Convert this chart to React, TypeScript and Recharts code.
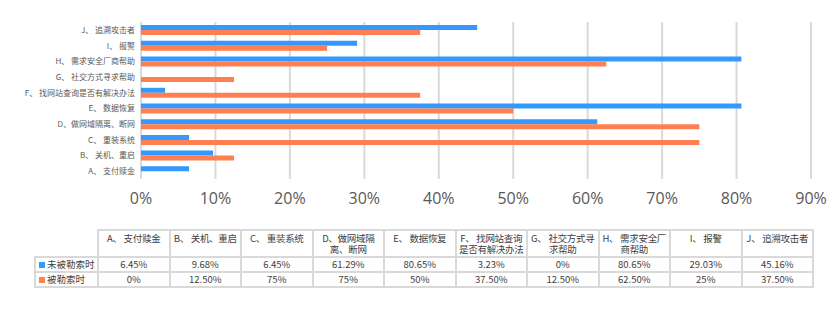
import { BarChart, Bar, XAxis, YAxis, CartesianGrid } from "recharts";

const categories = [
  "A、 支付赎金",
  "B、 关机、重启",
  "C、 重装系统",
  "D、做网域隔离、断网",
  "E、 数据恢复",
  "F、 找网站查询是否有解决办法",
  "G、 社交方式寻求帮助",
  "H、 需求安全厂商帮助",
  "I、  报警",
  "J、 追溯攻击者",
];
const notExtorted = [6.45, 9.68, 6.45, 61.29, 80.65, 3.23, 0, 80.65, 29.03, 45.16];
const extorted = [0, 12.5, 75, 75, 50, 37.5, 12.5, 62.5, 25, 37.5];
const notExtortedText = ["6.45%", "9.68%", "6.45%", "61.29%", "80.65%", "3.23%", "0%", "80.65%", "29.03%", "45.16%"];
const extortedText = ["0%", "12.50%", "75%", "75%", "50%", "37.50%", "12.50%", "62.50%", "25%", "37.50%"];
const xTicks = [0, 10, 20, 30, 40, 50, 60, 70, 80, 90];

const seriesNames = ["未被勒索时", "被勒索时"];
const BLUE = "#3399FF";
const ORANGE = "#FF7F50";
const BORDER = "2px solid #d9d9d9";

const data = categories.map((name, i) => ({
  name,
  a: notExtorted[i],
  b: extorted[i],
}));

const cell: React.CSSProperties = {
  border: BORDER,
  padding: 0,
  textAlign: "center",
  color: "#404040",
  fontSize: 9.5,
  lineHeight: "11px",
  overflow: "visible",
};

// plain svg text so long labels stay on one line
const CategoryTick = (props: any) => {
  const { x, y, payload } = props;
  return (
    <text x={x} y={y} dy={3} textAnchor="end" fill="#595959" fontSize={8}>
      {payload.value}
    </text>
  );
};

const App = () => {
  return (
    <div
      style={{
        position: "fixed",
        left: 0,
        top: 0,
        width: 837,
        height: 311,
        background: "#fff",
        fontFamily: "'Noto Sans CJK SC', 'Liberation Sans', sans-serif",
      }}
    >
      <BarChart
        width={837}
        height={215}
        data={data}
        layout="vertical"
        margin={{ top: 22, right: 26, left: 0, bottom: 6 }}
        barSize={5}
        barGap={0}
      >
        <CartesianGrid horizontal={false} stroke="#d9d9d9" strokeWidth={2} />
        <XAxis
          type="number"
          domain={[0, 90]}
          ticks={xTicks}
          height={30}
          axisLine={false}
          tickLine={false}
          tickSize={0}
          tickMargin={14}
          tickFormatter={(v) => `${v}%`}
          tick={{ fill: "#595959", fontSize: 16, fontFamily: "'Open Sans', sans-serif" }}
        />
        <YAxis
          type="category"
          dataKey="name"
          reversed
          width={141}
          axisLine={false}
          tickLine={false}
          tickSize={0}
          tickMargin={6}
          interval={0}
          tick={<CategoryTick />}
        />
        <Bar dataKey="a" name={seriesNames[0]} fill={BLUE} isAnimationActive={false} />
        <Bar dataKey="b" name={seriesNames[1]} fill={ORANGE} isAnimationActive={false} />
      </BarChart>
      <table
        style={{
          position: "absolute",
          left: 34,
          top: 229,
          borderCollapse: "collapse",
          tableLayout: "fixed",
          width: 778,
        }}
      >
        <colgroup>
          <col style={{ width: 63 }} />
          {categories.map((c) => (
            <col key={c} style={{ width: 71.5 }} />
          ))}
        </colgroup>
        <tbody>
          <tr style={{ height: 27 }}>
            <td style={{ ...cell, borderTop: "none", borderLeft: "none" }} />
            {categories.map((c) => (
              <td
                key={c}
                style={{ ...cell, verticalAlign: "top", paddingTop: 2, letterSpacing: -0.3 }}
              >
                {c}
              </td>
            ))}
          </tr>
          {[notExtortedText, extortedText].map((row, r) => (
            <tr key={r} style={{ height: 15 }}>
              <td style={{ ...cell, textAlign: "left", whiteSpace: "nowrap", paddingLeft: 3 }}>
                <span
                  style={{
                    display: "inline-block",
                    width: 6,
                    height: 6,
                    background: r === 0 ? BLUE : ORANGE,
                    marginRight: 2,
                  }}
                />
                {seriesNames[r]}
              </td>
              {row.map((v, i) => (
                <td key={i} style={cell}>
                  {v}
                </td>
              ))}
            </tr>
          ))}
        </tbody>
      </table>
    </div>
  );
};

export default App;
